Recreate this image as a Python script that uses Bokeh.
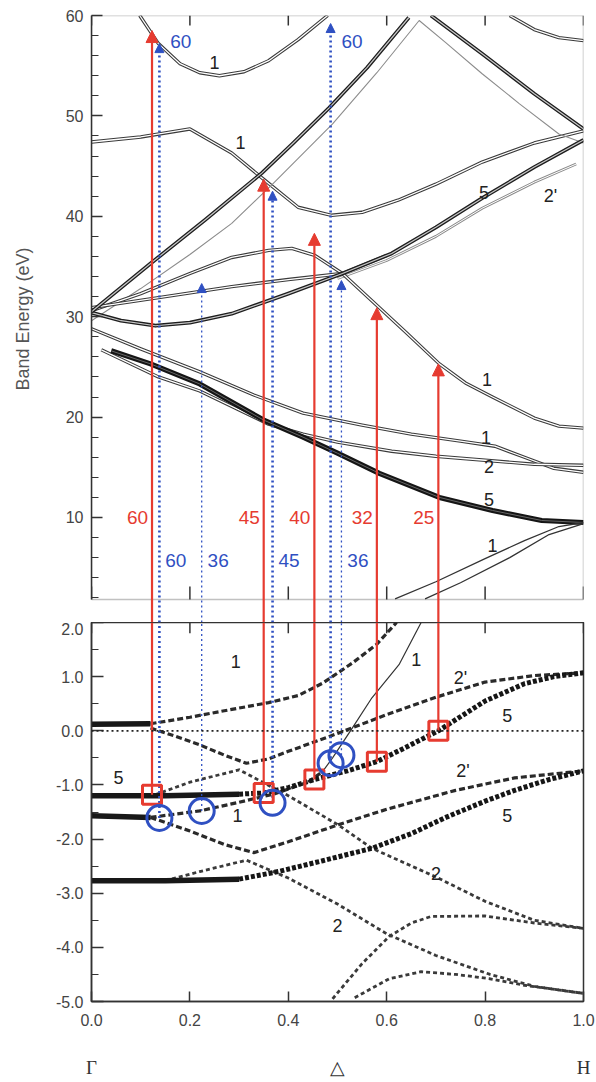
import numpy as np
from bokeh.plotting import figure
from bokeh.models import (Range1d, LinearAxis, FixedTicker, NumeralTickFormatter, BoxAnnotation,
                          Arrow, NormalHead, ColumnDataSource, Span)
from bokeh.layouts import column
from bokeh.embed import file_html
from bokeh.resources import INLINE
from bokeh.core.properties import value

# ---------------- data: upper panel, band energies (eV) vs k ----------------
t1_k = [0.098, 0.136, 0.18, 0.22, 0.26, 0.31, 0.36, 0.42, 0.48]
t1_e = [60.0, 57.2, 55.2, 54.3, 54.0, 54.4, 55.5, 57.6, 60.0]
t1b_k = [0.85, 0.9, 0.95, 1.0]
t1b_e = [60.0, 58.6, 57.8, 57.5]
t2_k = [0.0, 0.1, 0.2, 0.285, 0.352, 0.42, 0.488, 0.55, 0.623, 0.7, 0.794, 0.9, 1.0]
t2_e = [47.4, 47.9, 48.7, 46.3, 43.6, 40.9, 40.1, 40.4, 41.6, 43.2, 45.4, 47.3, 48.5]
t3_k = [0.0, 0.12, 0.23, 0.346, 0.41, 0.483, 0.56, 0.645]
t3_e = [30.5, 35.3, 39.6, 44.3, 47.3, 50.8, 54.8, 59.8]
t3b_k = [0.0, 0.1, 0.2, 0.285, 0.37, 0.49, 0.58, 0.666, 0.72, 0.794, 0.87, 0.95, 1.0]
t3b_e = [29.6, 32.8, 36.2, 39.3, 43.3, 49.2, 54.3, 59.5, 57.3, 54.2, 51.2, 48.2, 47.3]
t4_k = [0.69, 0.794, 0.9, 1.0]
t4_e = [60.0, 56.2, 52.2, 48.7]
t5_k = [0.0, 0.06, 0.13, 0.2, 0.285, 0.4, 0.51, 0.61, 0.7, 0.794, 0.9, 1.0]
t5_e = [30.4, 29.6, 29.1, 29.4, 30.3, 32.3, 34.3, 36.3, 38.9, 41.8, 44.9, 47.6]
t5b_k = [0.5, 0.6, 0.7, 0.794, 0.9, 0.985]
t5b_e = [33.8, 35.6, 38.0, 40.8, 43.4, 45.2]
t6_k = [0.0, 0.1, 0.2, 0.285, 0.36, 0.407, 0.454, 0.51, 0.583, 0.64, 0.707, 0.76, 0.815, 0.9, 0.95, 1.0]
t6_e = [30.6, 32.3, 34.3, 35.9, 36.6, 36.8, 36.1, 34.3, 31.0, 28.4, 25.3, 23.4, 22.0, 19.9, 19.1, 18.9]
t7_k = [0.0, 0.15, 0.285, 0.4, 0.51, 0.6]
t7_e = [30.9, 32.0, 33.0, 33.7, 34.3, 36.1]
t8_k = [0.0, 0.1, 0.22, 0.33, 0.43, 0.55, 0.65, 0.75, 0.82, 0.88, 0.94, 1.0]
t8_e = [28.8, 26.8, 24.5, 22.2, 20.4, 19.2, 18.3, 17.6, 17.1, 16.0, 14.9, 14.5]
t9_k = [0.04, 0.12, 0.22, 0.35, 0.43, 0.5, 0.585, 0.707, 0.815, 0.915, 1.0]
t9_e = [26.6, 25.3, 23.3, 19.7, 18.0, 16.4, 14.4, 12.0, 10.7, 9.7, 9.5]
t10_k = [0.02, 0.136, 0.22, 0.36, 0.43, 0.5, 0.61, 0.7, 0.8, 0.9, 1.0]
t10_e = [26.7, 24.0, 22.6, 19.3, 18.3, 17.5, 16.6, 16.1, 15.7, 15.3, 15.2]
t11a_k = [0.617, 0.7, 0.8, 0.88, 0.95, 1.0]
t11a_e = [1.9, 3.6, 5.9, 7.7, 9.1, 9.5]
t11b_k = [0.678, 0.75, 0.85, 0.93, 1.0]
t11b_e = [1.9, 3.5, 6.0, 8.3, 9.4]

top_labels = ["1", "1", "5", "2'", "1", "1", "2", "5", "1"]
top_labels_k = [0.25, 0.303, 0.798, 0.933, 0.804, 0.802, 0.808, 0.808, 0.815]
top_labels_e = [55.3, 47.4, 42.4, 42.0, 23.7, 18.0, 15.1, 11.8, 7.2]

# ---------------- data: lower panel, binding energy (eV) vs k ----------------
b1_k = [0.0, 0.12, 0.2, 0.27, 0.36, 0.42, 0.47, 0.53, 0.58, 0.62]
b1_e = [0.12, 0.13, 0.25, 0.37, 0.52, 0.65, 0.88, 1.25, 1.6, 2.0]
b2_k = [0.12, 0.17, 0.22, 0.27, 0.315, 0.36, 0.4, 0.5, 0.6, 0.7, 0.8, 0.9, 1.0]
b2_e = [0.05, -0.1, -0.26, -0.45, -0.6, -0.52, -0.38, -0.05, 0.3, 0.62, 0.9, 1.02, 1.07]
b3_k = [0.0, 0.15, 0.3, 0.35, 0.4, 0.453, 0.52, 0.58, 0.64, 0.705, 0.8, 0.88, 0.94, 1.0]
b3_e = [-1.2, -1.2, -1.17, -1.15, -1.05, -0.9, -0.74, -0.57, -0.3, 0.0, 0.55, 0.87, 1.0, 1.07]
b4_k = [0.13, 0.2, 0.3, 0.4, 0.5, 0.57, 0.7, 0.8, 0.9, 1.0]
b4_e = [-1.18, -0.95, -0.72, -1.2, -1.73, -2.17, -2.7, -3.15, -3.5, -3.65]
b5_k = [0.0, 0.12, 0.22, 0.3, 0.37, 0.44, 0.47]
b5_e = [-1.57, -1.6, -1.48, -1.32, -1.17, -0.95, -0.75]
b5t_k = [0.47, 0.49, 0.53, 0.57, 0.625, 0.67]
b5t_e = [-0.75, -0.5, 0.05, 0.61, 1.22, 2.0]
b6_k = [0.12, 0.2, 0.27, 0.33, 0.4, 0.5, 0.6, 0.74, 0.86, 1.0]
b6_e = [-1.6, -1.85, -2.1, -2.25, -2.05, -1.74, -1.45, -1.1, -0.87, -0.74]
b7_k = [0.0, 0.15, 0.3, 0.38, 0.47, 0.57, 0.65, 0.72, 0.8, 0.86, 0.93, 1.0]
b7_e = [-2.77, -2.77, -2.74, -2.6, -2.4, -2.17, -1.9, -1.6, -1.3, -1.1, -0.9, -0.74]
b8_k = [0.15, 0.22, 0.315, 0.4, 0.5, 0.6, 0.7, 0.81, 0.9, 1.0]
b8_e = [-2.77, -2.6, -2.39, -2.72, -3.2, -3.75, -4.15, -4.5, -4.72, -4.85]
b9_k = [0.49, 0.55, 0.605, 0.65, 0.69, 0.8, 0.9, 1.0]
b9_e = [-4.95, -4.3, -3.8, -3.55, -3.43, -3.42, -3.55, -3.65]
b10_k = [0.535, 0.605, 0.67, 0.74, 0.81, 0.88, 1.0]
b10_e = [-4.93, -4.58, -4.45, -4.5, -4.58, -4.7, -4.85]

bot_labels = ["1", "1", "2'", "5", "2'", "5", "5", "1", "2", "2"]
bot_labels_k = [0.293, 0.66, 0.75, 0.845, 0.755, 0.845, 0.055, 0.297, 0.70, 0.50]
bot_labels_e = [1.28, 1.31, 0.98, 0.28, -0.74, -1.57, -0.87, -1.57, -2.63, -3.59]

# ---------------- transitions (photon energies, eV) ----------------
red_k = [0.123, 0.35, 0.453, 0.58, 0.705]
red_e_init = [-1.18, -1.15, -0.90, -0.57, 0.00]
red_e_final = [58.5, 43.7, 38.3, 30.9, 25.3]
red_hv = ["60", "45", "40", "32", "25"]

blue_k = [0.138, 0.224, 0.368, 0.486, 0.508]
blue_e_init = [-1.61, -1.48, -1.33, -0.60, -0.45]
blue_e_final = [57.2, 33.3, 42.5, 59.2, 33.6]
blue_hv = ["60", "36", "45", "60", "36"]

x_ticks = [0.0, 0.2, 0.4, 0.6, 0.8, 1.0]
top_y_ticks = [10, 20, 30, 40, 50, 60]
bot_y_ticks = [-5, -4, -3, -2, -1, 0, 1, 2]
kpt_pos = [0.0, 0.5, 1.0]
kpt_names = ["Γ", "△", "H"]

# ---------------- styling / layout constants ----------------
FONT = "Liberation Sans"
RED = "#e63b30"
BLUE = "#2f50c2"
AX = "#333333"
TICKC = "#444444"
TOP_EMIN = 1.83
TOP_YSTART = -0.46
W = 596
LEFT, RIGHT = 91, 13

# ================= upper figure =================
pt = figure(width=W, height=622, x_range=Range1d(0, 1), y_range=Range1d(TOP_YSTART, 60),
            output_backend="svg", toolbar_location=None,
            x_axis_location=None, y_axis_location=None,
            min_border_left=LEFT, min_border_right=RIGHT, min_border_top=15, min_border_bottom=0)
pt.outline_line_color = None
pt.grid.grid_line_color = None
pt.background_fill_color = "white"
pt.border_fill_color = "white"

ly = LinearAxis(ticker=FixedTicker(ticks=top_y_ticks, minor_ticks=list(range(2, 60, 2))),
                bounds=(TOP_EMIN, 60), formatter=NumeralTickFormatter(format="0"))
ly.axis_line_color = AX
ly.axis_line_width = 1.5
ly.major_tick_in, ly.major_tick_out = 11, 0
ly.minor_tick_in, ly.minor_tick_out = 7, 0
ly.major_tick_line_color = AX
ly.minor_tick_line_color = AX
ly.major_tick_line_width = 1.5
ly.major_label_text_font = FONT
ly.major_label_text_font_size = "16px"
ly.major_label_text_color = TICKC
ly.major_label_standoff = 8
ly.axis_label = "Band Energy (eV)"
ly.axis_label_text_font = FONT
ly.axis_label_text_font_size = "18px"
ly.axis_label_text_font_style = "normal"
ly.axis_label_text_color = "#555555"
ly.axis_label_standoff = 30
pt.add_layout(ly, "left")

pt.add_layout(BoxAnnotation(left=0, right=1, bottom=TOP_EMIN, top=60, fill_color=None,
                            line_color=AX, line_width=1.5))
# inward ticks along the top and bottom edges of the upper panel
n_xt = len(x_ticks)
pt.segment(x0=x_ticks, y0=[TOP_EMIN] * n_xt, x1=x_ticks, y1=[TOP_EMIN + 1.3] * n_xt,
           line_color=AX, line_width=1.5)
pt.segment(x0=x_ticks, y0=[60] * n_xt, x1=x_ticks, y1=[60 - 1.0] * n_xt,
           line_color=AX, line_width=1.5)

STY = {
    "dbl": (3.4, "#3a3a3a", 1.3, "white"),
    "dblthick": (3.8, "#1e1e1e", 1.2, "#c8c8c8"),
    "heavy": (5.2, "#151515", 1.0, "#666666"),
    "dblgray": (2.8, "#8c8c8c", 1.0, "white"),
    "thingray": (1.1, "#8c8c8c", None, None),
    "single": (1.3, "#333333", None, None),
}


def band(p, k, e, sty):
    ow, oc, iw, ic = STY[sty]
    p.line(k, e, line_width=ow, line_color=oc, line_join="round")
    if iw:
        p.line(k, e, line_width=iw, line_color=ic, line_join="round")


for k, e, s in [(t1_k, t1_e, "dbl"), (t1b_k, t1b_e, "dbl"), (t2_k, t2_e, "dbl"),
                (t3b_k, t3b_e, "thingray"), (t5b_k, t5b_e, "dblgray"),
                (t6_k, t6_e, "dbl"), (t7_k, t7_e, "dbl"), (t8_k, t8_e, "dbl"),
                (t10_k, t10_e, "dbl"), (t5_k, t5_e, "dblthick"), (t3_k, t3_e, "dblthick"),
                (t4_k, t4_e, "dblthick"), (t9_k, t9_e, "heavy"),
                (t11a_k, t11a_e, "single"), (t11b_k, t11b_e, "single")]:
    band(pt, k, e, s)

pt.text(x=top_labels_k, y=top_labels_e, text=top_labels, text_align="center",
        text_baseline="middle", text_font=value(FONT), text_font_size=value("18px"),
        text_color="#222222")

# arrows (upper parts)
red_src = ColumnDataSource(dict(k=red_k, y0=[TOP_YSTART] * len(red_k), y1=red_e_final))
pt.add_layout(Arrow(end=NormalHead(size=12, fill_color=RED, line_color=RED, line_width=1),
                    x_start="k", y_start="y0", x_end="k", y_end="y1", source=red_src,
                    line_color=RED, line_width=2.2))
thick_b = [i for i, h in enumerate(blue_hv) if h != "36"]
thin_b = [i for i, h in enumerate(blue_hv) if h == "36"]
for idx, lw, dash in [(thick_b, 2.6, "2 3"), (thin_b, 1.3, "2 3")]:
    src = ColumnDataSource(dict(k=[blue_k[i] for i in idx], y0=[TOP_YSTART] * len(idx),
                                y1=[blue_e_final[i] for i in idx]))
    pt.add_layout(Arrow(end=NormalHead(size=9, fill_color=BLUE, line_color=BLUE, line_width=1),
                        x_start="k", y_start="y0", x_end="k", y_end="y1", source=src,
                        line_color=BLUE, line_width=lw, line_dash=dash))

pt.text(x=[k - 0.008 for k in red_k], y=[10.0] * len(red_k), text=red_hv, text_align="right",
        text_baseline="middle", text_font=value(FONT), text_font_size=value("19px"),
        text_color=RED)
low_i = [0, 1, 2, 4]
pt.text(x=[blue_k[i] + 0.012 for i in low_i], y=[5.7] * len(low_i),
        text=[blue_hv[i] for i in low_i], text_align="left", text_baseline="middle",
        text_font=value(FONT), text_font_size=value("19px"), text_color=BLUE)
up_i = [0, 3]
pt.text(x=[blue_k[i] + 0.022 for i in up_i], y=[57.4] * len(up_i),
        text=[blue_hv[i] for i in up_i], text_align="left", text_baseline="middle",
        text_font=value(FONT), text_font_size=value("19px"), text_color=BLUE)

# ================= lower figure =================
pb = figure(width=W, height=460, x_range=Range1d(0, 1), y_range=Range1d(-5, 2),
            output_backend="svg", toolbar_location=None,
            x_axis_location=None, y_axis_location=None,
            min_border_left=LEFT, min_border_right=RIGHT, min_border_top=0, min_border_bottom=81)
pb.outline_line_color = AX
pb.outline_line_width = 1.5
pb.grid.grid_line_color = None
pb.background_fill_color = "white"
pb.border_fill_color = "white"

lyb = LinearAxis(ticker=FixedTicker(ticks=bot_y_ticks, minor_ticks=[v + 0.5 for v in bot_y_ticks[:-1]]),
                 formatter=NumeralTickFormatter(format="0.0"))
lyb.axis_line_color = AX
lyb.axis_line_width = 1.5
lyb.major_tick_in, lyb.major_tick_out = 12, 0
lyb.minor_tick_in, lyb.minor_tick_out = 7, 0
lyb.major_tick_line_color = AX
lyb.minor_tick_line_color = AX
lyb.major_tick_line_width = 1.5
lyb.major_label_text_font = FONT
lyb.major_label_text_font_size = "16px"
lyb.major_label_text_color = TICKC
lyb.major_label_standoff = 8
pb.add_layout(lyb, "left")

axb = LinearAxis(ticker=FixedTicker(ticks=x_ticks, minor_ticks=[]),
                 formatter=NumeralTickFormatter(format="0.0"))
axb.axis_line_color = AX
axb.axis_line_width = 1.5
axb.major_tick_in, axb.major_tick_out = 10, 0
axb.major_tick_line_color = AX
axb.major_tick_line_width = 1.5
axb.major_label_text_font = FONT
axb.major_label_text_font_size = "16px"
axb.major_label_text_color = TICKC
axb.major_label_standoff = 12
pb.add_layout(axb, "below")

axk = LinearAxis(ticker=FixedTicker(ticks=kpt_pos, minor_ticks=[]),
                 major_label_overrides=dict(zip(kpt_pos, kpt_names)))
axk.axis_line_color = None
axk.major_tick_line_color = None
axk.major_label_text_font = "Liberation Serif"
axk.major_label_text_font_size = "19px"
axk.major_label_text_color = "#333333"
axk.major_label_standoff = 22
pb.add_layout(axk, "below")

# inward ticks along the top edge of the lower panel
pb.segment(x0=x_ticks, y0=[2.0] * n_xt, x1=x_ticks, y1=[2.0 - 0.2] * n_xt,
           line_color=AX, line_width=1.5)

pb.add_layout(Span(location=0, dimension="width", line_color="#222222", line_width=1.8,
                   line_dash="2 3"))

BSTY = {
    "solid": dict(line_width=5.5, line_color="#181818"),
    "dash": dict(line_width=3.2, line_color="#2a2a2a", line_dash="6 3"),
    "dashheavy": dict(line_width=5.0, line_color="#161616", line_dash="4 2"),
    "dashlight": dict(line_width=2.8, line_color="#3a3a3a", line_dash="4 3"),
    "thin": dict(line_width=1.2, line_color="#333333"),
}


def bband(p, k, e, cut, head, tail):
    k = np.asarray(k, dtype=float)
    e = np.asarray(e, dtype=float)
    if cut is None:
        p.line(k, e, line_join="round", **BSTY[tail])
        return
    a = k <= cut
    b = k >= cut
    p.line(k[b], e[b], line_join="round", **BSTY[tail])
    p.line(k[a], e[a], line_join="round", **BSTY[head])


bband(pb, b8_k, b8_e, None, None, "dashlight")
bband(pb, b9_k, b9_e, None, None, "dashlight")
bband(pb, b10_k, b10_e, None, None, "dashlight")
bband(pb, b4_k, b4_e, None, None, "dashlight")
bband(pb, b6_k, b6_e, None, None, "dash")
bband(pb, b2_k, b2_e, None, None, "dash")
bband(pb, b1_k, b1_e, 0.12, "solid", "dash")
bband(pb, b5_k, b5_e, 0.12, "solid", "dash")
bband(pb, b5t_k, b5t_e, None, None, "thin")
bband(pb, b7_k, b7_e, 0.3, "solid", "dashheavy")
bband(pb, b3_k, b3_e, 0.3, "solid", "dashheavy")

pb.text(x=bot_labels_k, y=bot_labels_e, text=bot_labels, text_align="center",
        text_baseline="middle", text_font=value(FONT), text_font_size=value("18px"),
        text_color="#222222")

# arrows (lower parts)
ytop = pb.y_range.end
pb.segment(x0=red_k, y0=red_e_init, x1=red_k, y1=[ytop] * len(red_k), line_color=RED,
           line_width=2.2)
for idx, lw in [(thick_b, 2.6), (thin_b, 1.3)]:
    pb.segment(x0=[blue_k[i] for i in idx], y0=[blue_e_init[i] for i in idx],
               x1=[blue_k[i] for i in idx], y1=[ytop] * len(idx), line_color=BLUE,
               line_width=lw, line_dash="2 3")
pb.scatter(red_k, red_e_init, marker="square", size=19, fill_color=None, line_color=RED,
           line_width=3)
pb.scatter(blue_k, blue_e_init, marker="circle", size=25, fill_color=None, line_color=BLUE,
           line_width=3)

layout = column(pt, pb, spacing=0)
open("out.html", "w").write(file_html(layout, INLINE))
